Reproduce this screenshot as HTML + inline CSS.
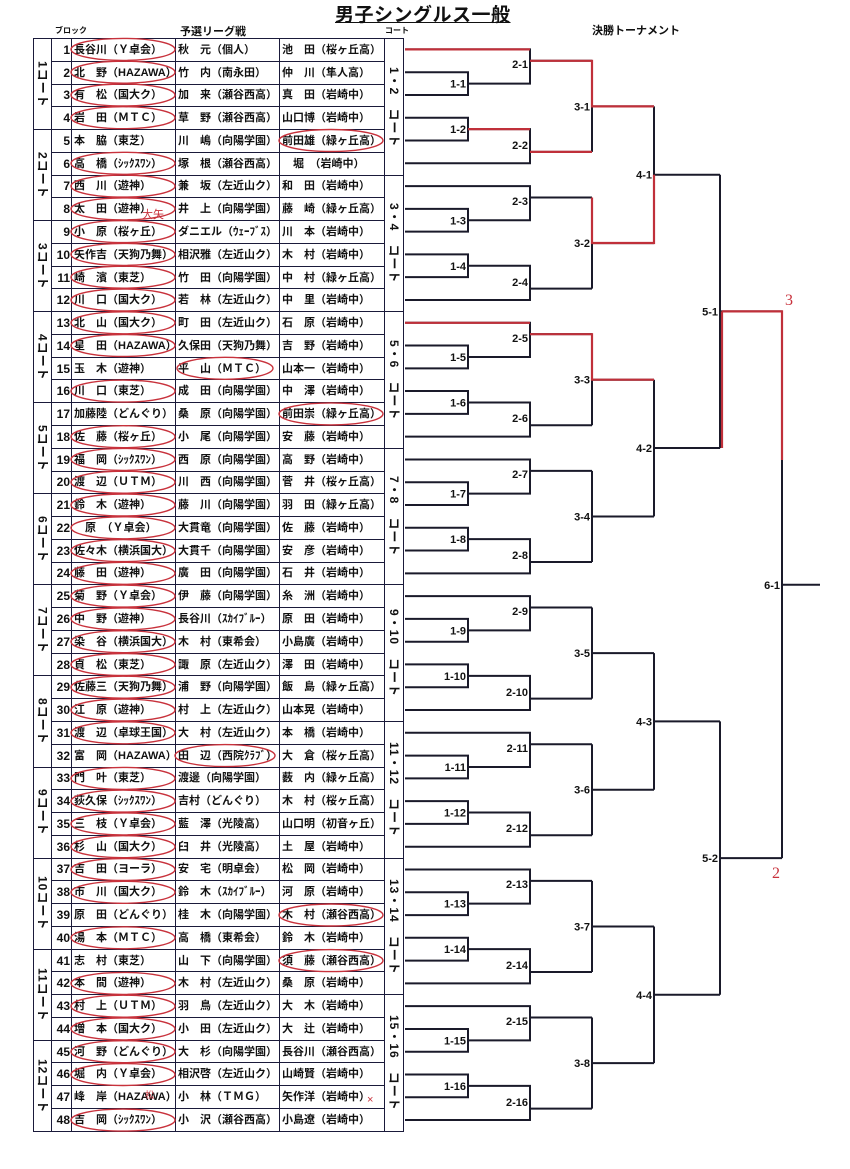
<!DOCTYPE html>
<html><head><meta charset="utf-8">
<style>
body{margin:0;width:850px;height:1169px;background:#fff;position:relative;overflow:hidden;font-family:"Liberation Sans","Noto Sans CJK JP",sans-serif;color:#111}
.t{position:absolute;font-weight:bold;white-space:nowrap}
table{position:absolute;left:33px;top:38px;border-collapse:collapse;table-layout:fixed;width:370px}
td{border:1.5px solid #1a1a3a;height:21.2px;padding:0 0 0 2px;font-size:11px;font-weight:bold;white-space:nowrap;overflow:hidden;line-height:20px}
td.n{text-align:right;padding:0 1px 0 0;font-size:12px}
td.v{writing-mode:vertical-rl;text-orientation:sideways;text-align:center;padding:0;font-size:12px;letter-spacing:1px;line-height:16px}
tr{height:22.78px}
svg{position:absolute;left:0;top:0}
</style></head><body>
<div class="t" style="left:335px;top:0px;font-size:19px;text-decoration:underline;letter-spacing:0.5px">男子シングルス一般</div>
<div class="t" style="left:55px;top:25px;font-size:8px">ブロック</div>
<div class="t" style="left:180px;top:23px;font-size:11px">予選リーグ戦</div>
<div class="t" style="left:385px;top:25px;font-size:8px">コート</div>
<div class="t" style="left:592px;top:22px;font-size:11px">決勝トーナメント</div>

<table>
<colgroup><col style="width:18px"><col style="width:20px"><col style="width:104px"><col style="width:104px"><col style="width:105px"><col style="width:19px"></colgroup>
<tr><td class="v" rowspan="4">1コート</td><td class="n">1</td><td>長谷川（Ｙ卓会）</td><td>秋　元（個人）</td><td>池　田（桜ヶ丘高）</td><td class="v" rowspan="6">1・2　コート</td></tr>
<tr><td class="n">2</td><td>北　野（HAZAWA）</td><td>竹　内（南永田）</td><td>仲　川（隼人高）</td></tr>
<tr><td class="n">3</td><td>有　松（国大ク）</td><td>加　来（瀬谷西高）</td><td>真　田（岩崎中）</td></tr>
<tr><td class="n">4</td><td>岩　田（ＭＴＣ）</td><td>草　野（瀬谷西高）</td><td>山口博（岩崎中）</td></tr>
<tr><td class="v" rowspan="4">2コート</td><td class="n">5</td><td>本　脇（東芝）</td><td>川　嶋（向陽学園）</td><td>前田雄（緑ヶ丘高）</td></tr>
<tr><td class="n">6</td><td>高　橋（ｼｯｸｽﾜﾝ）</td><td>塚　根（瀬谷西高）</td><td>　堀　（岩崎中）</td></tr>
<tr><td class="n">7</td><td>西　川（遊神）</td><td>兼　坂（左近山ク）</td><td>和　田（岩崎中）</td><td class="v" rowspan="6">3・4　コート</td></tr>
<tr><td class="n">8</td><td>太　田（遊神）</td><td>井　上（向陽学園）</td><td>藤　崎（緑ヶ丘高）</td></tr>
<tr><td class="v" rowspan="4">3コート</td><td class="n">9</td><td>小　原（桜ヶ丘）</td><td>ダニエル（ｳｪｰﾌﾞｽ）</td><td>川　本（岩崎中）</td></tr>
<tr><td class="n">10</td><td>矢作吉（天狗乃舞）</td><td>相沢雅（左近山ク）</td><td>木　村（岩崎中）</td></tr>
<tr><td class="n">11</td><td>崎　濱（東芝）</td><td>竹　田（向陽学園）</td><td>中　村（緑ヶ丘高）</td></tr>
<tr><td class="n">12</td><td>川　口（国大ク）</td><td>若　林（左近山ク）</td><td>中　里（岩崎中）</td></tr>
<tr><td class="v" rowspan="4">4コート</td><td class="n">13</td><td>北　山（国大ク）</td><td>町　田（左近山ク）</td><td>石　原（岩崎中）</td><td class="v" rowspan="6">5・6　コート</td></tr>
<tr><td class="n">14</td><td>星　田（HAZAWA）</td><td>久保田（天狗乃舞）</td><td>吉　野（岩崎中）</td></tr>
<tr><td class="n">15</td><td>玉　木（遊神）</td><td>平　山（ＭＴＣ）</td><td>山本一（岩崎中）</td></tr>
<tr><td class="n">16</td><td>川　口（東芝）</td><td>成　田（向陽学園）</td><td>中　澤（岩崎中）</td></tr>
<tr><td class="v" rowspan="4">5コート</td><td class="n">17</td><td>加藤陸（どんぐり）</td><td>桑　原（向陽学園）</td><td>前田崇（緑ヶ丘高）</td></tr>
<tr><td class="n">18</td><td>佐　藤（桜ヶ丘）</td><td>小　尾（向陽学園）</td><td>安　藤（岩崎中）</td></tr>
<tr><td class="n">19</td><td>福　岡（ｼｯｸｽﾜﾝ）</td><td>西　原（向陽学園）</td><td>高　野（岩崎中）</td><td class="v" rowspan="6">7・8　コート</td></tr>
<tr><td class="n">20</td><td>渡　辺（ＵＴＭ）</td><td>川　西（向陽学園）</td><td>菅　井（桜ヶ丘高）</td></tr>
<tr><td class="v" rowspan="4">6コート</td><td class="n">21</td><td>鈴　木（遊神）</td><td>藤　川（向陽学園）</td><td>羽　田（緑ヶ丘高）</td></tr>
<tr><td class="n">22</td><td>　原　（Ｙ卓会）</td><td>大貫竜（向陽学園）</td><td>佐　藤（岩崎中）</td></tr>
<tr><td class="n">23</td><td>佐々木（横浜国大）</td><td>大貫千（向陽学園）</td><td>安　彦（岩崎中）</td></tr>
<tr><td class="n">24</td><td>藤　田（遊神）</td><td>廣　田（向陽学園）</td><td>石　井（岩崎中）</td></tr>
<tr><td class="v" rowspan="4">7コート</td><td class="n">25</td><td>菊　野（Ｙ卓会）</td><td>伊　藤（向陽学園）</td><td>糸　洲（岩崎中）</td><td class="v" rowspan="6">9・10　コート</td></tr>
<tr><td class="n">26</td><td>中　野（遊神）</td><td>長谷川（ｽｶｲﾌﾞﾙｰ）</td><td>原　田（岩崎中）</td></tr>
<tr><td class="n">27</td><td>染　谷（横浜国大）</td><td>木　村（東希会）</td><td>小島廣（岩崎中）</td></tr>
<tr><td class="n">28</td><td>貞　松（東芝）</td><td>諏　原（左近山ク）</td><td>澤　田（岩崎中）</td></tr>
<tr><td class="v" rowspan="4">8コート</td><td class="n">29</td><td>佐藤三（天狗乃舞）</td><td>浦　野（向陽学園）</td><td>飯　島（緑ヶ丘高）</td></tr>
<tr><td class="n">30</td><td>江　原（遊神）</td><td>村　上（左近山ク）</td><td>山本晃（岩崎中）</td></tr>
<tr><td class="n">31</td><td>渡　辺（卓球王国）</td><td>大　村（左近山ク）</td><td>本　橋（岩崎中）</td><td class="v" rowspan="6">11・12　コート</td></tr>
<tr><td class="n">32</td><td>富　岡（HAZAWA）</td><td>田　辺（西院ｸﾗﾌﾞ）</td><td>大　倉（桜ヶ丘高）</td></tr>
<tr><td class="v" rowspan="4">9コート</td><td class="n">33</td><td>門　叶（東芝）</td><td>渡邊（向陽学園）</td><td>薮　内（緑ヶ丘高）</td></tr>
<tr><td class="n">34</td><td>荻久保（ｼｯｸｽﾜﾝ）</td><td>吉村（どんぐり）</td><td>木　村（桜ヶ丘高）</td></tr>
<tr><td class="n">35</td><td>三　枝（Ｙ卓会）</td><td>藍　澤（光陵高）</td><td>山口明（初音ヶ丘）</td></tr>
<tr><td class="n">36</td><td>杉　山（国大ク）</td><td>臼　井（光陵高）</td><td>土　屋（岩崎中）</td></tr>
<tr><td class="v" rowspan="4">10コート</td><td class="n">37</td><td>吉　田（ヨーラ）</td><td>安　宅（明卓会）</td><td>松　岡（岩崎中）</td><td class="v" rowspan="6">13・14　コート</td></tr>
<tr><td class="n">38</td><td>市　川（国大ク）</td><td>鈴　木（ｽｶｲﾌﾞﾙｰ）</td><td>河　原（岩崎中）</td></tr>
<tr><td class="n">39</td><td>原　田（どんぐり）</td><td>桂　木（向陽学園）</td><td>木　村（瀬谷西高）</td></tr>
<tr><td class="n">40</td><td>湯　本（ＭＴＣ）</td><td>高　橋（東希会）</td><td>鈴　木（岩崎中）</td></tr>
<tr><td class="v" rowspan="4">11コート</td><td class="n">41</td><td>志　村（東芝）</td><td>山　下（向陽学園）</td><td>須　藤（瀬谷西高）</td></tr>
<tr><td class="n">42</td><td>本　間（遊神）</td><td>木　村（左近山ク）</td><td>桑　原（岩崎中）</td></tr>
<tr><td class="n">43</td><td>村　上（ＵＴＭ）</td><td>羽　鳥（左近山ク）</td><td>大　木（岩崎中）</td><td class="v" rowspan="6">15・16　コート</td></tr>
<tr><td class="n">44</td><td>増　本（国大ク）</td><td>小　田（左近山ク）</td><td>大　辻（岩崎中）</td></tr>
<tr><td class="v" rowspan="4">12コート</td><td class="n">45</td><td>河　野（どんぐり）</td><td>大　杉（向陽学園）</td><td>長谷川（瀬谷西高）</td></tr>
<tr><td class="n">46</td><td>堀　内（Ｙ卓会）</td><td>相沢啓（左近山ク）</td><td>山崎賢（岩崎中）</td></tr>
<tr><td class="n">47</td><td>峰　岸（HAZAWA）</td><td>小　林（ＴＭＧ）</td><td>矢作洋（岩崎中）</td></tr>
<tr><td class="n">48</td><td>吉　岡（ｼｯｸｽﾜﾝ）</td><td>小　沢（瀬谷西高）</td><td>小島遼（岩崎中）</td></tr>
</table>

<svg width="850" height="1169" viewBox="0 0 850 1169">
<defs>
<g id="grp" fill="none" stroke="#1a1a2a" stroke-width="2">
<path d="M405 49.4 H530 V83.6 H468 M405 72.2 H468 V95 H405 M530 60.8 H592 M405 117.7 H468 V140.5 H405 M468 129.1 H530 V163.3 H405 M530 151.9 H592 M592 60.8 V151.9 M592 106.4 H654"/>
</g>
<g id="pair" fill="none" stroke="#1a1a2a" stroke-width="2">
<path d="M654 106.4 V243 M654 174.7 H720"/>
</g>
</defs>
<use href="#grp"/>
<use href="#grp" transform="translate(0,136.68)"/>
<use href="#grp" transform="translate(0,273.36)"/>
<use href="#grp" transform="translate(0,410.04)"/>
<use href="#grp" transform="translate(0,546.72)"/>
<use href="#grp" transform="translate(0,683.4)"/>
<use href="#grp" transform="translate(0,820.08)"/>
<use href="#grp" transform="translate(0,956.76)"/>
<use href="#pair"/>
<use href="#pair" transform="translate(0,273.36)"/>
<use href="#pair" transform="translate(0,546.72)"/>
<use href="#pair" transform="translate(0,820.08)"/>
<path fill="none" stroke="#1a1a2a" stroke-width="2" d="M720 174.7 V448.1 M720 311.4 H782 M720 721.4 V994.8 M720 858.1 H782 M782 311.4 V858.1 M782 584.8 H820"/>
<path fill="none" stroke="#c0303a" stroke-width="2.2" d="M405 49.4 H530 M530 60.8 H592 V106.4 H654 M468 129.1 H530 M530 151.9 H592 M592 197.5 V243 H654 V174.7 M722 311.4 H782 V460 M722 311.4 V448 M405 322.8 H530 M530 334.2 H592 V379.7 H654"/>

<g fill="none" stroke="#c8323c" stroke-width="1.4">
<ellipse cx="123" cy="49.4" rx="52" ry="11"/><ellipse cx="123" cy="72.2" rx="52" ry="11"/><ellipse cx="123" cy="95" rx="52" ry="11"/><ellipse cx="123" cy="117.7" rx="52" ry="11"/>
<ellipse cx="123" cy="163.3" rx="52" ry="11"/><ellipse cx="123" cy="186.1" rx="52" ry="11"/><ellipse cx="123" cy="208.9" rx="52" ry="11"/><ellipse cx="123" cy="231.6" rx="52" ry="11"/>
<ellipse cx="123" cy="254.4" rx="52" ry="11"/><ellipse cx="123" cy="277.2" rx="52" ry="11"/><ellipse cx="123" cy="300" rx="52" ry="11"/><ellipse cx="123" cy="322.8" rx="52" ry="11"/>
<ellipse cx="123" cy="345.5" rx="52" ry="11"/><ellipse cx="123" cy="391.1" rx="52" ry="11"/><ellipse cx="123" cy="436.7" rx="52" ry="11"/><ellipse cx="123" cy="459.4" rx="52" ry="11"/>
<ellipse cx="123" cy="482.2" rx="52" ry="11"/><ellipse cx="123" cy="505" rx="52" ry="11"/><ellipse cx="123" cy="527.8" rx="52" ry="11"/><ellipse cx="123" cy="550.6" rx="52" ry="11"/>
<ellipse cx="123" cy="573.3" rx="52" ry="11"/><ellipse cx="123" cy="596.1" rx="52" ry="11"/><ellipse cx="123" cy="618.9" rx="52" ry="11"/><ellipse cx="123" cy="641.7" rx="52" ry="11"/>
<ellipse cx="123" cy="664.5" rx="52" ry="11"/><ellipse cx="123" cy="687.2" rx="52" ry="11"/><ellipse cx="123" cy="710" rx="52" ry="11"/><ellipse cx="123" cy="732.8" rx="52" ry="11"/>
<ellipse cx="123" cy="778.4" rx="52" ry="11"/><ellipse cx="123" cy="801.1" rx="52" ry="11"/><ellipse cx="123" cy="823.9" rx="52" ry="11"/><ellipse cx="123" cy="846.7" rx="52" ry="11"/>
<ellipse cx="123" cy="869.5" rx="52" ry="11"/><ellipse cx="123" cy="892.3" rx="52" ry="11"/><ellipse cx="123" cy="937.8" rx="52" ry="11"/><ellipse cx="123" cy="983.4" rx="52" ry="11"/>
<ellipse cx="123" cy="1006.2" rx="52" ry="11"/><ellipse cx="123" cy="1028.9" rx="52" ry="11"/><ellipse cx="123" cy="1051.7" rx="52" ry="11"/><ellipse cx="123" cy="1074.5" rx="52" ry="11"/>
<ellipse cx="123" cy="1120.1" rx="52" ry="11"/>
<ellipse cx="225" cy="368.3" rx="48" ry="11"/><ellipse cx="225" cy="755.6" rx="50" ry="11"/>
<ellipse cx="331" cy="140.5" rx="52" ry="11"/><ellipse cx="331" cy="413.9" rx="52" ry="11"/><ellipse cx="331" cy="915" rx="52" ry="11"/><ellipse cx="331" cy="960.6" rx="52" ry="11"/>
</g>

<g font-family="Liberation Sans, sans-serif" font-size="11" font-weight="bold" fill="#111" text-anchor="end">
<text x="466" y="87.6">1-1</text><text x="466" y="133.1">1-2</text><text x="466" y="224.3">1-3</text><text x="466" y="269.8">1-4</text>
<text x="466" y="360.9">1-5</text><text x="466" y="406.5">1-6</text><text x="466" y="497.6">1-7</text><text x="466" y="543.2">1-8</text>
<text x="466" y="634.3">1-9</text><text x="466" y="679.8">1-10</text><text x="466" y="771">1-11</text><text x="466" y="816.5">1-12</text>
<text x="466" y="907.6">1-13</text><text x="466" y="953.2">1-14</text><text x="466" y="1044.3">1-15</text><text x="466" y="1089.9">1-16</text>
<text x="528" y="68">2-1</text><text x="528" y="149">2-2</text><text x="528" y="205">2-3</text><text x="528" y="286">2-4</text>
<text x="528" y="342">2-5</text><text x="528" y="422">2-6</text><text x="528" y="478">2-7</text><text x="528" y="559">2-8</text>
<text x="528" y="615">2-9</text><text x="528" y="696">2-10</text><text x="528" y="752">2-11</text><text x="528" y="832">2-12</text>
<text x="528" y="888">2-13</text><text x="528" y="969">2-14</text><text x="528" y="1025">2-15</text><text x="528" y="1106">2-16</text>
<text x="590" y="110.4">3-1</text><text x="590" y="247">3-2</text><text x="590" y="383.7">3-3</text><text x="590" y="520.4">3-4</text>
<text x="590" y="657.1">3-5</text><text x="590" y="793.7">3-6</text><text x="590" y="930.4">3-7</text><text x="590" y="1067.1">3-8</text>
<text x="652" y="178.7">4-1</text><text x="652" y="452.1">4-2</text><text x="652" y="725.4">4-3</text><text x="652" y="998.8">4-4</text>
<text x="718" y="315.4">5-1</text><text x="718" y="862.1">5-2</text>
<text x="780" y="588.8">6-1</text>
</g>
<text x="785" y="305" font-family="Liberation Serif, serif" font-size="16" fill="#c8323c">3</text>
<text x="772" y="878" font-family="Liberation Serif, serif" font-size="16" fill="#c8323c">2</text>
<text x="142" y="218" font-family="Noto Sans CJK JP, sans-serif" font-size="11" fill="#c8323c">大矢</text>
<text x="145" y="1098" font-family="Noto Sans CJK JP, sans-serif" font-size="9" fill="#c8323c">松</text>
<text x="367" y="1103" font-family="Liberation Sans, sans-serif" font-size="11" fill="#c8323c">×</text>
</svg>
</body></html>
